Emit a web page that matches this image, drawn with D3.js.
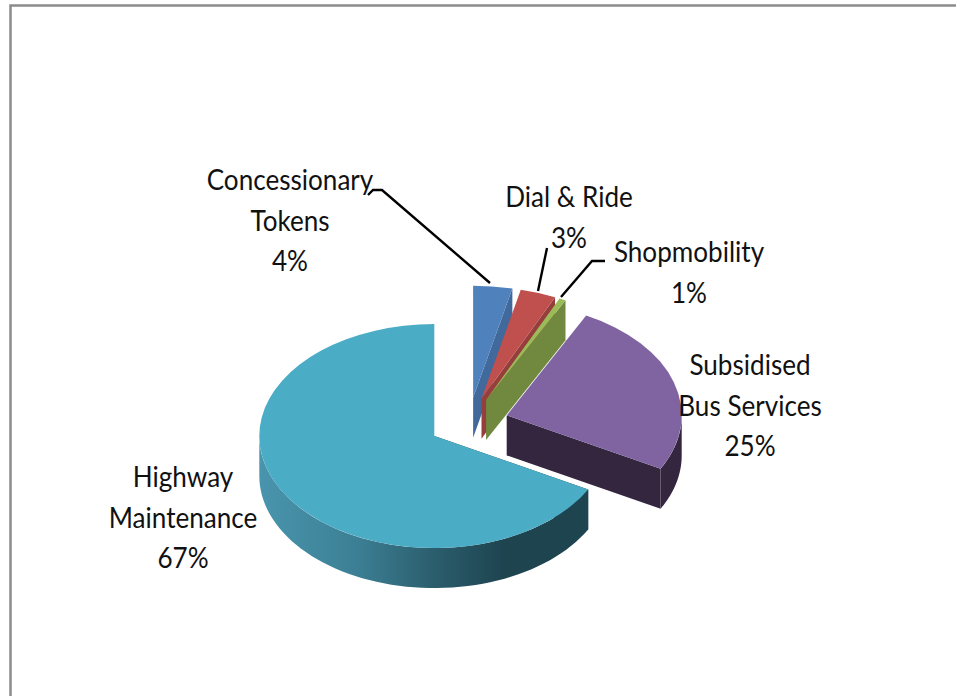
<!DOCTYPE html>
<html><head><meta charset="utf-8">
<script src="https://cdn.jsdelivr.net/npm/d3@7"></script>
<style>html,body{margin:0;padding:0;background:#fff}svg{display:block}text{font-family:Lato,"Open Sans",sans-serif;fill:#111}</style>
</head><body><svg id="c" width="956" height="696"></svg>
<script>
const categories = ["Concessionary Tokens","Dial & Ride","Shopmobility","Subsidised Bus Services","Highway Maintenance"];
const values = [3.6,3.3,0.6,25.4,67.1];
const percentLabels = ["4%","3%","1%","25%","67%"];
const topColors = ["#4f81bd","#c0504d","#9bbb59","#8064a2","#4bacc6"];
const wallColors = ["#41699b","#963e3b","#71893f","#35263f","#1e4450"];
const labelLines = [
  ["Concessionary","Tokens"],
  ["Dial & Ride"],
  ["Shopmobility"],
  ["Subsidised","Bus Services"],
  ["Highway","Maintenance"]];
const labelX = [290,569,689,750,183];
const labelY = [190,207,262,375,487];
const lineH = 40.7;
const fontSize = 29;
const widthSqueeze = 0.9;
const leaders = [
  [[368,195],[373,190],[382,190],[490,283]],
  [[547,248],[538,291]],
  [[605,261],[592,261],[561,297]]];

const cx0=468.6, cy0=423, rx=175, ry=112, depth=40, explode=0.228;
const svg=d3.select("#c");
const defs=svg.append("defs");
const grad=defs.append("linearGradient").attr("id","wallGrad").attr("gradientUnits","userSpaceOnUse")
  .attr("x1",259).attr("x2",585).attr("y1",0).attr("y2",0);
[[0,"#4995ad"],[0.3,"#3c7f94"],[0.55,"#2a5c6b"],[0.75,"#1e4450"],[1,"#1e4450"]].forEach(s=>
  grad.append("stop").attr("offset",s[0]).attr("stop-color",s[1]));

// chart frame
svg.append("path").attr("d","M10.5,696V5.5H956").attr("fill","none").attr("stroke","#8c8c8c").attr("stroke-width",2.5);

const pie=d3.pie().sort(null).value(d=>d).startAngle(0).endAngle(2*Math.PI);
const arcs=pie(values);
const arcGen=d3.arc().innerRadius(0).outerRadius(rx);
const px=(c,a)=>c[0]+rx*Math.sin(a), py=(c,a)=>c[1]-ry*Math.cos(a);
const lineGen=d3.line();

arcs.forEach((d,i)=>{
  const mid=(d.startAngle+d.endAngle)/2;
  const c=[cx0+explode*rx*Math.sin(mid), cy0-explode*ry*Math.cos(mid)];
  const g=svg.append("g");
  // outer rim, visible where the arc faces the viewer
  const a0=Math.max(d.startAngle,Math.PI/2), a1=Math.min(d.endAngle,3*Math.PI/2);
  if(a1>a0){
    const n=d3.range(0,61).map(k=>a0+(a1-a0)*k/60);
    const pts=n.map(a=>[px(c,a),py(c,a)]).concat(n.slice().reverse().map(a=>[px(c,a),py(c,a)+depth]));
    g.append("path").attr("d",lineGen(pts)+"Z")
      .attr("fill",i===4?"url(#wallGrad)":wallColors[i]);
  }
  // cut wall: end angle for the small slices and the purple one, start angle for the large slice
  const a=i<4?d.endAngle:d.startAngle;
  const pts=[c,[px(c,a),py(c,a)],[px(c,a),py(c,a)+depth],[c[0],c[1]+depth]];
  g.append("path").attr("d",lineGen(pts)+"Z").attr("fill",wallColors[i]);
  g.append("path").attr("d",arcGen(d))
    .attr("transform",`translate(${c[0]},${c[1]}) scale(1,${ry/rx})`)
    .attr("fill",topColors[i]);
});

leaders.forEach(l=>svg.append("path").attr("d",lineGen(l)).attr("fill","none").attr("stroke","#000").attr("stroke-width",2.4));

labelLines.forEach((lines,i)=>{
  lines.concat([percentLabels[i]]).forEach((t,j)=>{
    svg.append("text")
      .attr("transform",`translate(${labelX[i]},${labelY[i]+j*lineH}) scale(${widthSqueeze},1)`)
      .attr("text-anchor","middle").attr("font-size",fontSize).text(t);
  });
});
</script></body></html>
